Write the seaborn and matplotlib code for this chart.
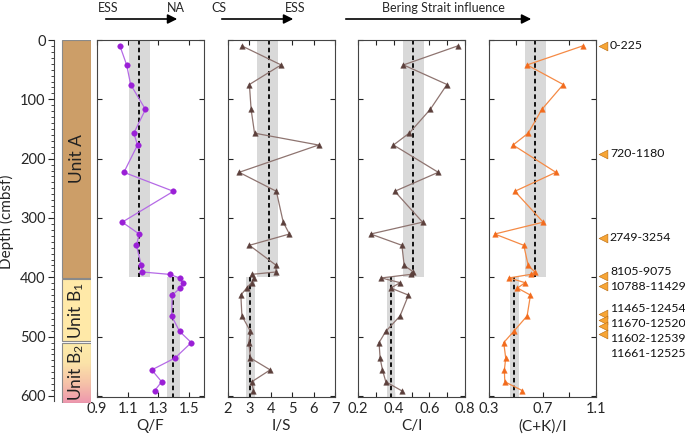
import numpy as np
import pandas as pd
import matplotlib
matplotlib.use("Agg")
import matplotlib.pyplot as plt
import seaborn as sns
from matplotlib.colors import LinearSegmentedColormap
from matplotlib.patches import Rectangle

# ----------------- DATA -----------------
depth = [10, 42, 75, 117, 157, 177, 223, 255, 307, 327, 346, 380, 391, 395,
         401, 409, 418, 430, 465, 491, 510, 536, 556, 576, 591]

qf = [1.05, 1.094, 1.12, 1.217, 1.141, 1.165, 1.076, 1.40, 1.065, 1.176, 1.158, 1.19, 1.197,
      1.375, 1.44, 1.46, 1.444, 1.392, 1.388, 1.44, 1.517, 1.41, 1.258, 1.323, 1.277]
i_s = [2.65, 4.48, 3.0, 3.08, 3.24, 6.23, 2.52, 4.26, 4.58, 4.87, 3.0, 4.26, 4.23,
       3.11, 3.21, 3.1, 2.87, 2.6, 2.65, 3.05, 2.97, 3.05, 3.97, 3.11, 3.19]
c_i = [0.759, 0.455, 0.699, 0.605, 0.487, 0.399, 0.650, 0.406, 0.562, 0.271, 0.446, 0.459, 0.511,
       0.496, 0.331, 0.436, 0.384, 0.483, 0.436, 0.356, 0.318, 0.324, 0.337, 0.356, 0.444]
ck_i = [1.0, 0.585, 0.855, 0.695, 0.593, 0.48, 0.80, 0.493, 0.705, 0.343, 0.56, 0.593, 0.643,
        0.613, 0.45, 0.57, 0.513, 0.61, 0.585, 0.485, 0.41, 0.425, 0.415, 0.418, 0.55]

# unit A (0-400) and unit B (400-bottom): mean and +/- band
qf_mean = [1.176, 1.396]
qf_band = [(1.111, 1.245), (1.357, 1.44)]
is_mean = [3.92, 3.03]
is_band = [(3.35, 4.32), (2.84, 3.24)]
ci_mean = [0.511, 0.384]
ci_band = [(0.455, 0.568), (0.361, 0.406)]
cki_mean = [0.643, 0.488]
cki_band = [(0.568, 0.725), (0.46, 0.525)]
unit_ranges = [(0, 400), (400, 601)]

units = ["Unit A", "Unit B$_1$", "Unit B$_2$"]
unit_tops = [0, 403, 511]
unit_bottoms = [401, 508, 611]

date_labels = ["0-225", "720-1180", "2749-3254", "8105-9075", "10788-11429",
               "11465-12454", "11670-12520", "11602-12539", "11661-12525"]
date_label_depths = [10, 192, 333, 390, 416, 452, 477, 503, 528]
date_marker_depths = [10, 192, 333, 398, 415, 462, 472, 482, 496]
# -----------------------------------------------------------------

sns.set_style("ticks")
plt.rcParams["font.family"] = ["Lato", "DejaVu Sans"]
plt.rcParams["mathtext.default"] = "regular"
plt.rcParams["axes.edgecolor"] = "#444444"
plt.rcParams["axes.linewidth"] = 0.8

fig = plt.figure(figsize=(6.85, 4.34), dpi=100)
W, H = 685.0, 434.0

def fx(px):
    return px / W

panel_bottom = (H - 396.6) / H
panel_height = 356.6 / H

df = pd.DataFrame({"depth": depth, "Q/F": qf, "I/S": i_s, "C/I": c_i, "(C+K)/I": ck_i})

panels = [
    ("Q/F", 97, (0.9, 1.6), [0.9, 1.1, 1.3, 1.5], None, qf_mean, qf_band, "#B56AE6", "#9A1FD6", "o"),
    ("I/S", 228, (2, 7), [2, 3, 4, 5, 6, 7], None, is_mean, is_band, "#8E7470", "#5C403C", "^"),
    ("C/I", 358, (0.2, 0.8), [0.2, 0.3, 0.4, 0.5, 0.6, 0.7, 0.8], ["0.2", "", "0.4", "", "0.6", "", "0.8"],
     ci_mean, ci_band, "#8E7470", "#5C403C", "^"),
    ("(C+K)/I", 489, (0.3, 1.1), [0.3, 0.5, 0.7, 0.9, 1.1], ["0.3", "", "0.7", "", "1.1"],
     cki_mean, cki_band, "#F58A45", "#F26B1D", "^"),
]

axes = []
for col, left, xlim, xt, xtl, means, bands, lcol, mcol, mk in panels:
    ax = fig.add_axes([fx(left), panel_bottom, fx(107), panel_height])
    for (top, bot), m, (lo, hi) in zip(unit_ranges, means, bands):
        ax.fill_betweenx([top, bot], lo, hi, color="#D9D9D9", lw=0, zorder=1)
        ax.plot([m, m], [top, bot], color="black", lw=1.3, ls=(0, (2.5, 1.8)), zorder=2)
    sns.lineplot(data=df, x=col, y="depth", orient="y", sort=False, estimator=None,
                 color=lcol, lw=0.9, ax=ax, zorder=3)
    sns.scatterplot(data=df, x=col, y="depth", marker=mk, color=mcol, s=16,
                    edgecolor=mcol, linewidth=0.3, ax=ax, zorder=4)
    ax.set_xlim(*xlim)
    ax.set_ylim(601, 0)
    ax.set_xticks(xt)
    if xtl is not None:
        ax.set_xticklabels(xtl)
    ax.set_yticks(range(0, 601, 100))
    ax.set_yticklabels([])
    ax.tick_params(axis="both", direction="in", top=True, right=True, length=3.5,
                   width=0.8, labelsize=10.5, pad=4, color="#222222")
    ax.set_xlabel(col, fontsize=11, labelpad=2)
    ax.set_ylabel("")
    axes.append(ax)

# unit column + depth axis
uax = fig.add_axes([fx(54), (H - 403.1) / H, fx(37), 363.1 / H])
uax.set_xlim(0, 1)
uax.set_ylim(612, 0)
cmap_b2 = LinearSegmentedColormap.from_list("b2", ["#FDEBAA", "#FBE3A8", "#F6C3A8", "#EE97AE"])
unit_colors = ["#CC9E68", "#FFE9A8", None]
for name, top, bot, c in zip(units, unit_tops, unit_bottoms, unit_colors):
    if c is None:
        grad = np.linspace(0, 1, 200).reshape(-1, 1)
        uax.imshow(grad, cmap=cmap_b2, aspect="auto", extent=[0.22, 1.0, bot, top],
                   origin="upper", zorder=1)
        uax.add_patch(Rectangle((0.22, top), 0.78, bot - top, fill=False,
                                ec="#8A8A8A", lw=0.8, zorder=2))
    else:
        uax.add_patch(Rectangle((0.22, top), 0.78, bot - top, fc=c,
                                ec="#8A8A8A", lw=0.8, zorder=2))
    uax.text(0.61, (top + bot) / 2, name, rotation=90, ha="center", va="center",
             fontsize=12.5, color="#222222", zorder=3)
uax.set_xlim(0, 1)
uax.set_ylim(612, 0)
sns.despine(ax=uax, top=True, right=True, bottom=True)
uax.spines["left"].set_bounds(0, 608)
uax.set_xticks([])
uax.set_yticks(range(0, 601, 100))
uax.set_yticks(range(0, 601, 10), minor=True)
uax.tick_params(axis="y", which="major", direction="out", length=4, width=0.8, labelsize=10.5, pad=2)
uax.tick_params(axis="y", which="minor", direction="out", length=2, width=0.6)
uax.set_ylabel("Depth (cmbsf)", fontsize=11, labelpad=4)

# dated levels on the right of the last panel
last = axes[-1]
tr = last.get_yaxis_transform()
last.scatter([1.065] * len(date_marker_depths), date_marker_depths, marker="<", s=40,
             color="#F7A535", edgecolor="#B86A10", linewidth=0.4, transform=tr, clip_on=False, zorder=5)
for lab, d in zip(date_labels, date_label_depths):
    last.text(1.13, d, lab, transform=tr, ha="left", va="center", fontsize=8.8, color="#111111")

# top arrows
def top_arrow(x0, x1):
    fig.add_artist(matplotlib.patches.FancyArrowPatch(
        (fx(x0), (H - 19) / H), (fx(x1), (H - 19) / H), transform=fig.transFigure,
        arrowstyle="-|>", mutation_scale=14, lw=1.2, color="black"))

top_arrow(103, 180)
top_arrow(219, 296)
top_arrow(343, 534)
ty = (H - 8) / H
fig.text(fx(98), ty, "ESS", ha="left", va="center", fontsize=9)
fig.text(fx(185), ty, "NA", ha="right", va="center", fontsize=9)
fig.text(fx(211), ty, "CS", ha="left", va="center", fontsize=9)
fig.text(fx(305), ty, "ESS", ha="right", va="center", fontsize=9)
fig.text(fx(443), ty, "Bering Strait influence", ha="center", va="center", fontsize=9)

fig.savefig("out.png", dpi=100)
